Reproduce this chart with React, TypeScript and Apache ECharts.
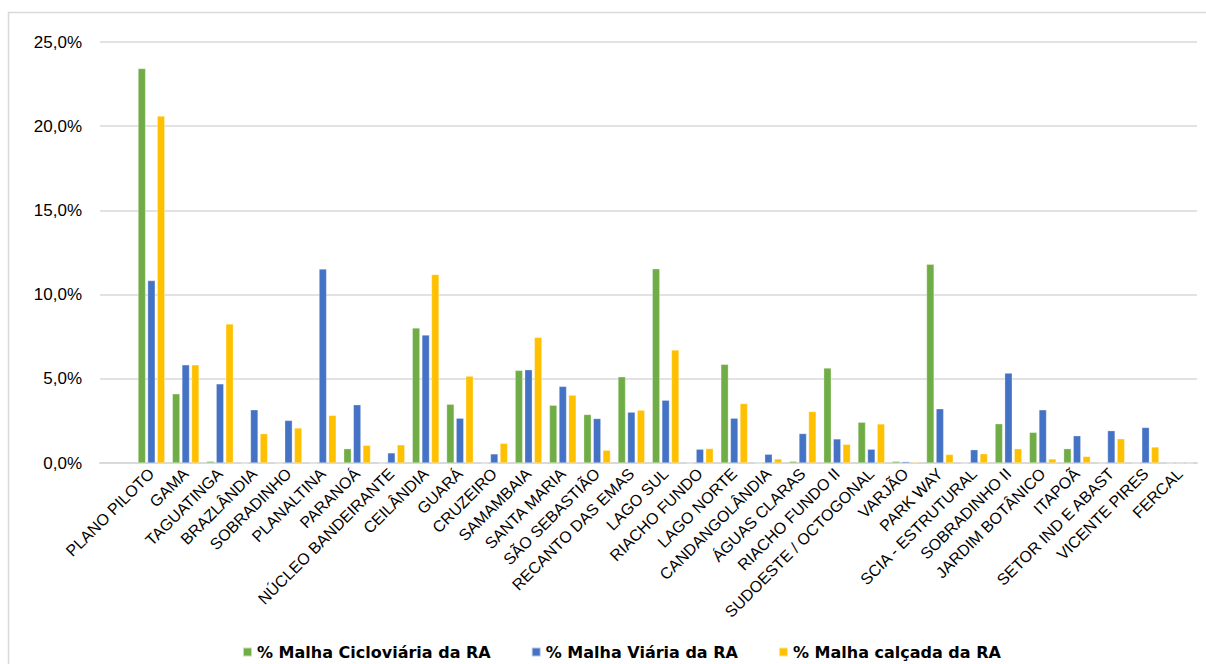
import React, { useEffect, useRef } from "react";
import * as echarts from "echarts";

const categories = [
  "PLANO PILOTO", "GAMA", "TAGUATINGA", "BRAZLÂNDIA", "SOBRADINHO", "PLANALTINA", "PARANOÁ",
  "NÚCLEO BANDEIRANTE", "CEILÂNDIA", "GUARÁ", "CRUZEIRO", "SAMAMBAIA", "SANTA MARIA",
  "SÃO SEBASTIÃO", "RECANTO DAS EMAS", "LAGO SUL", "RIACHO FUNDO", "LAGO NORTE",
  "CANDANGOLÂNDIA", "ÁGUAS CLARAS", "RIACHO FUNDO II", "SUDOESTE / OCTOGONAL", "VARJÃO",
  "PARK WAY", "SCIA - ESTRUTURAL", "SOBRADINHO II", "JARDIM BOTÂNICO", "ITAPOÃ",
  "SETOR IND E ABAST", "VICENTE PIRES", "FERCAL",
];

const cicloviaria = [
  23.43, 4.11, 0.1, 0, 0, 0, 0.85, 0, 8.02, 3.49, 0, 5.5, 3.43, 2.88, 5.12, 11.53, 0, 5.86,
  0, 0.1, 5.64, 2.42, 0.1, 11.8, 0, 2.33, 1.82, 0.85, 0, 0, 0,
];

const viaria = [
  10.83, 5.83, 4.7, 3.16, 2.53, 11.52, 3.46, 0.6, 7.6, 2.66, 0.54, 5.54, 4.55, 2.64, 3.02,
  3.73, 0.82, 2.66, 0.52, 1.75, 1.43, 0.82, 0.08, 3.22, 0.79, 5.34, 3.16, 1.62, 1.92, 2.11, 0,
];

const calcada = [
  20.6, 5.83, 8.26, 1.74, 2.08, 2.83, 1.05, 1.08, 11.19, 5.16, 1.17, 7.46, 4.03, 0.76, 3.14,
  6.71, 0.86, 3.53, 0.24, 3.06, 1.11, 2.32, 0.05, 0.51, 0.55, 0.85, 0.24, 0.39, 1.44, 0.95, 0,
];

const yTicks = [0, 5, 10, 15, 20, 25];

const seriesNames = [
  "% Malha Cicloviária da RA",
  "% Malha Viária da RA",
  "% Malha calçada da RA",
];
const colors = ["#70AD47", "#4472C4", "#FFC000"];

export default function App() {
  const ref = useRef<HTMLDivElement>(null);

  useEffect(() => {
    if (!ref.current) return;
    const chart = echarts.init(ref.current, null, { renderer: "svg" });
    const font = "Arial, 'Liberation Sans', sans-serif";
    const datasets = [cicloviaria, viaria, calcada];
    // the original chart keeps an empty slot before the first category
    const axisCategories = ["", ...categories];
    chart.setOption({
      animation: false,
      textStyle: { fontFamily: font },
      graphic: [
        {
          type: "rect",
          shape: { x: 8.5, y: 12.5, width: 1210, height: 700 },
          style: { fill: "none", stroke: "#d9d9d9", lineWidth: 1.5 },
          silent: true,
          z: -1,
        },
      ],
      grid: { left: 100, right: 9, top: 42, bottom: 201, containLabel: false },
      legend: {
        top: 639,
        left: 237,
        icon: "rect",
        itemWidth: 9,
        itemHeight: 9,
        itemGap: 40,
        textStyle: {
          fontFamily: "'DejaVu Sans', sans-serif",
          fontWeight: "bold",
          fontSize: 16,
          color: "#000",
        },
        data: seriesNames,
      },
      xAxis: {
        type: "category",
        data: axisCategories,
        axisLine: { lineStyle: { color: "#d9d9d9", width: 2 } },
        axisTick: { show: false },
        axisLabel: {
          interval: 0,
          rotate: 45,
          fontSize: 16,
          color: "#000",
          margin: 8,
          fontFamily: font,
        },
      },
      yAxis: {
        type: "value",
        min: yTicks[0],
        max: yTicks[yTicks.length - 1],
        interval: 5,
        axisLine: { show: false },
        axisTick: { show: false },
        splitLine: { lineStyle: { color: "#d9d9d9", width: 1.5 } },
        axisLabel: {
          fontSize: 17,
          color: "#000",
          margin: 18,
          fontFamily: font,
          formatter: (v: number) => v.toFixed(1).replace(".", ",") + "%",
        },
      },
      series: datasets.map((d, i) => ({
        name: seriesNames[i],
        type: "bar",
        data: [null, ...d],
        barGap: "27%",
        barCategoryGap: "22%",
        itemStyle: { color: colors[i], borderColor: "rgba(255,255,255,0.6)", borderWidth: 0.5 },
      })),
    });
    return () => chart.dispose();
  }, []);

  return (
    <div
      ref={ref}
      style={{ position: "fixed", left: 0, top: 0, width: 1206, height: 664, background: "#fff" }}
    />
  );
}
